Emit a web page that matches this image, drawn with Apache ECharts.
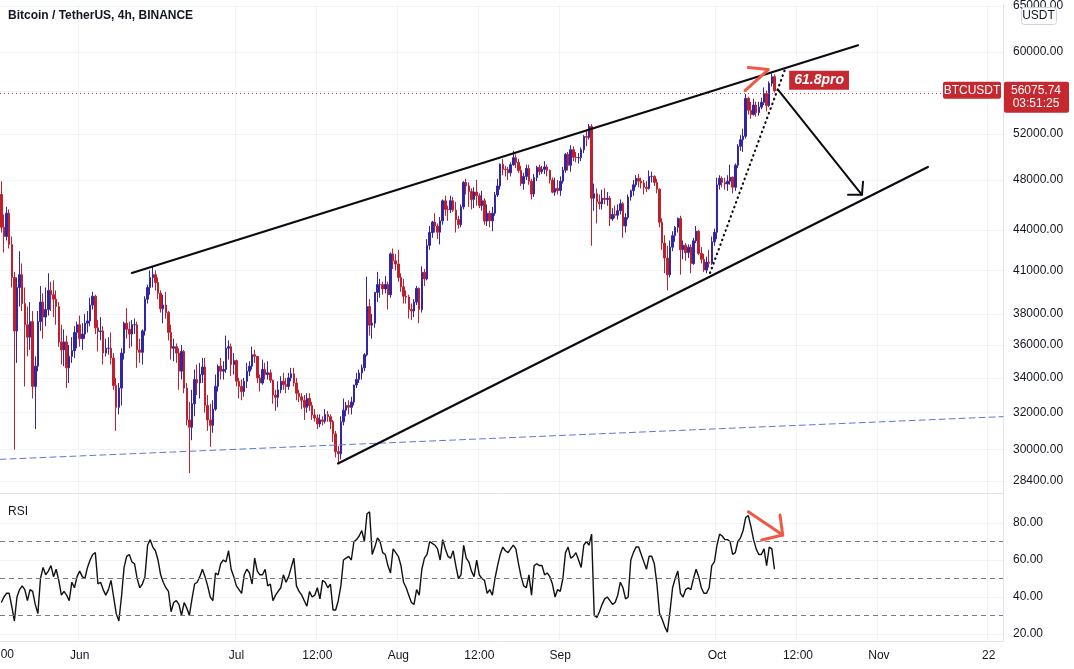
<!DOCTYPE html>
<html><head><meta charset="utf-8">
<script src="https://cdn.jsdelivr.net/npm/echarts@6/dist/echarts.min.js"></script>
<style>html,body{margin:0;padding:0;background:#fff}#chart{width:1074px;height:669px}</style>
</head><body><div id="chart"></div>
<script>
// ---------- data ----------
const slotStart = '2021-05-17 00:00';   // first 12h candle slot (UTC)
const slotHours = 12;
const slotCount = 384;                  // slots shown on the axis (through late Nov)

// 12h candles, ECharts order: [open, close, low, high]
const candles = [
[46800,44200,43800,47900],[44200,43500,42300,45200],
[43500,45300,43200,45800],[45300,42900,42600,45600],
[42900,40500,39800,43500],[40500,36900,30000,40900],
[36900,39800,34900,40500],[39800,40700,38500,42400],
[40700,38700,38200,41500],[38700,37300,33500,39800],
[37300,36500,35300,38500],[36500,37500,35700,38800],
[37500,33500,32800,38200],[33500,34700,31100,35300],
[34700,37500,34400,38200],[37500,38800,36900,39900],
[38800,37800,36400,39400],[37800,38300,37200,39800],
[38300,39600,37900,40800],[39600,39300,38200,40200],
[39300,39000,37800,40300],[39000,38500,37300,39600],
[38500,36200,35900,38800],[36200,35700,34800,37300],
[35700,36200,34700,37000],[36200,34600,33400,36600],
[34600,35300,33700,36000],[35300,35650,34900,36500],
[35650,36800,35200,37200],[36800,37300,35800,37500],
[37300,36400,35900,37900],[36400,36700,35700,37400],
[36700,37400,36400,38000],[37400,37550,36800,38200],
[37550,38600,37200,39100],[38600,39200,38300,39500],
[39200,37100,36700,39300],[37100,36850,35600,37600],
[36850,36900,36300,37800],[36900,35500,34800,37200],
[35500,35800,35300,36400],[35800,35800,35400,36500],
[35800,35200,34800,36800],[35200,33550,33300,35500],
[33550,32300,31000,34000],[32300,33400,31900,33700],
[33400,35500,32400,35800],[35500,37400,35100,37500],
[37400,37000,36400,38400],[37000,36700,35800,37500],
[36700,37300,35900,37600],[37300,37300,36700,37700],
[37300,35700,34600,37500],[35700,35550,34900,36400],
[35550,36900,34800,37000],[36900,39000,36600,39200],
[39000,39800,38700,40000],[39800,40500,39300,41000],
[40500,40700,39800,41300],[40700,40150,39600,41000],
[40150,39400,39000,40500],[39400,38350,38100,39600],
[38350,38600,37400,39300],[38600,38100,37700,39500],
[38100,36800,36300,38200],[36800,35800,35100,37300],
[35800,35900,35000,36400],[35900,35500,34900,36100],
[35500,34400,33300,35800],[34400,35600,33900,36000],
[35600,33400,33100,35700],[33400,31600,31300,33700],
[31600,31200,28800,32600],[31200,32500,30500,33300],
[32500,33900,31800,34500],[33900,33700,33000,34800],
[33700,34200,32800,34900],[34200,34650,33700,35200],
[34650,32400,32000,35200],[32400,31600,31000,33000],
[31600,31300,30150,32500],[31300,32200,30900,32700],
[32200,33500,32100,34200],[33500,34700,33200,34800],
[34700,34400,33900,35200],[34400,34500,33900,35000],
[34500,35800,34300,36600],[35800,35900,35100,36300],
[35900,34800,34100,36100],[34800,35040,34200,35500],
[35040,33800,33500,35100],[33800,33500,32800,34000],
[33500,33200,32700,33900],[33200,33800,32900,34000],
[33800,34400,33400,34900],[34400,34700,34100,35000],
[34700,35400,34500,35900],[35400,35300,34900,35700],
[35300,34000,33700,35300],[34000,33700,33200,34200],
[33700,34500,33600,35100],[34500,34200,33900,34900],
[34200,34300,33900,35000],[34300,33860,33700,34500],
[33860,33000,32500,33900],[33000,32870,32100,33300],
[32870,33300,32300,33800],[33300,33800,33100,34100],
[33800,33600,33300,34300],[33600,33500,33100,34000],
[33500,34000,33300,34300],[34000,34250,33800,34600],
[34250,33700,33500,34600],[33700,33100,32700,34000],
[33100,32900,32600,33300],[32900,32700,32200,33100],
[32700,32300,31600,33000],[32300,32800,32000,33100],
[32800,32400,32100,33100],[32400,31870,31600,32600],
[31870,31700,31500,32200],[31700,31380,31100,31900],
[31380,31600,31200,31900],[31600,31520,31300,31800],
[31520,31900,31400,32200],[31900,31780,31500,32100],
[31780,31500,31100,31900],[31500,30840,30400,31600],
[30840,29900,29600,31000],[29900,29790,29300,30200],
[29790,31500,29500,31800],[31500,32140,31300,32800],
[32140,32400,31800,32600],[32400,32300,31900,32700],
[32300,32600,31900,32900],[32600,33580,32400,33600],
[33580,33900,33400,34300],[33900,34290,33700,34500],
[34290,34600,33900,34800],[34600,35400,34400,35500],
[35400,38500,35300,40550],[38500,37270,36600,39000],
[37270,37400,36400,38000],[37400,39460,37100,39500],
[39460,40000,38800,40900],[40000,40000,39100,40400],
[40000,39700,39300,40200],[39700,40010,39400,40600],
[40010,39300,38300,40200],[39300,42200,39100,42300],
[42200,41700,41100,42600],[41700,41460,41000,42200],
[41460,40500,40200,42500],[40500,39850,39500,40800],
[39850,39200,38700,40400],[39200,39150,38700,39600],
[39150,38300,37700,39300],[38300,38200,37600,38700],
[38200,38800,37800,39000],[38800,39740,38600,39900],
[39740,38300,37400,39800],[38300,40870,38100,41300],
[40870,40400,39900,41100],[40400,42830,40300,43300],
[42830,43800,42500,44300],[43800,44610,43400,44700],
[44610,44300,43800,45300],[44300,43830,43300,44500],
[43830,44700,42900,45000],[44700,46290,44400,46400],
[46290,45600,45100,46700],[45600,45580,44700,45900],
[45580,46300,45300,46700],[46300,45540,45400,46600],
[45540,44800,43800,46200],[44800,44400,44100,45100],
[44400,45800,44200,46000],[45800,47800,45600,47900],
[47800,47500,46800,48100],[47500,47050,45800,47800],
[47050,46400,45600,47300],[46400,47000,45700,47400],
[47000,46700,45900,48000],[46700,45900,45700,46900],
[45900,46300,45500,47100],[46300,44680,44400,46500],
[44680,45300,44300,46000],[45300,44700,44200,45500],
[44700,45300,43900,45800],[45300,46760,45100,47000],
[46760,47500,46600,48100],[47500,49340,47200,49400],
[49340,48900,48400,49800],[48900,48870,48300,49200],
[48870,48600,48000,49100],[48600,49290,48300,49500],
[49290,49900,49200,50500],[49900,49500,49000,50200],
[49500,48800,48600,49800],[48800,47700,47500,49200],
[47700,48300,47200,48600],[48300,48970,48000,49300],
[48970,47900,47600,49300],[47900,46840,46400,48100],
[46840,48200,46600,48500],[48200,49070,47900,49200],
[49070,48700,48400,49300],[48700,48900,48500,49200],
[48900,49100,48500,49600],[49100,48810,48300,49300],
[48810,48000,47700,48900],[48000,46990,46900,48200],
[46990,47300,46700,48200],[47300,47130,46800,48000],
[47130,47900,46700,48300],[47900,48830,47700,49100],
[48830,50200,48600,50300],[50200,49250,48800,50400],
[49250,50600,48700,51000],[50600,49940,49600,50900],
[49940,49900,49500,50400],[49900,49920,49400,50300],
[49920,50600,49600,50800],[50600,51790,50300,51900],
[51790,51700,50900,52300],[51700,52700,51500,52920],
[52700,46500,42800,52900],[46500,46860,45500,47700],
[46860,46200,44500,47300],[46200,46050,45600,46800],
[46050,46500,45600,47200],[46500,46400,46000,47300],
[46400,46500,45900,47000],[46500,44850,44300,46700],
[44850,45200,44700,45700],[45200,45140,44900,45900],
[45140,45500,44800,46000],[45500,46060,45200,46400],
[46060,44300,43400,46200],[44300,44960,43800,45300],
[44960,46600,44800,46800],[46600,47110,46300,47200],
[47110,47600,46700,48000],[47600,48130,47400,48400],
[48130,47900,47400,48500],[47900,47750,47300,48200],
[47750,47400,46800,48000],[47400,47300,47000,47900],
[47300,48300,47200,48800],[48300,48300,47800,48700],
[48300,47800,47500,48400],[47800,47240,46900,48100],
[47240,44600,44200,47300],[44600,43010,42500,44900],
[43010,41900,40800,43600],[41900,40690,39600,42800],
[40690,42700,40500,43200],[42700,43560,42400,43900],
[43560,44200,43100,44300],[44200,44890,43800,44970],
[44890,42500,40700,45100],[42500,42840,41800,43200],
[42840,42300,41700,43000],[42300,42700,41900,42900],
[42700,41500,40800,42900],[41500,43170,41400,43400],
[43170,43900,43000,44300],[43900,42240,42100,44000],
[42240,41800,41500,42700],[41800,41030,40900,42200],
[41030,41600,40800,42000],[41600,41520,41200,42500],
[41520,43100,41400,43500],[43100,43820,42800,44100],
[43820,47600,43300,48200],[47600,48140,47200,48400],
[48140,47800,47400,48300],[47800,47670,47200,48200],
[47670,47900,47100,48400],[47900,48230,47600,49300],
[48230,47400,46900,48300],[47400,49250,47100,49400],
[49250,50900,49000,51100],[50900,51490,50500,51900],
[51490,51800,50400,52500],[51800,55340,51600,55750],
[55340,54200,53800,55500],[54200,53800,53400,55000],
[53800,54700,53700,55300],[54700,53970,53600,55000],
[53970,54500,53700,55000],[54500,54960,54300,55400],
[54960,55800,54700,56400],[55800,54660,54100,56100],
[54660,56800,54500,57000],[56800,57470,56500,57800],
[57470,56075.74,55900,57700]
];

// RSI(14), one reading per 12h slot
const rsiValues = [
37,40,42,42,35,27,40,44,46,44, 38,44,43,36,31,50,56,52,54,57,
51,55,49,41,43,41,38,48,45,51, 54,51,50,56,60,63,64,47,48,44,
41,44,49,40,31,27,40,56,62,63, 59,58,50,45,47,51,68,71,67,65,
60,52,48,45,43,32,37,38,36,30, 37,34,30,39,47,48,51,55,51,46,
40,38,53,52,58,60,59,65,55,51, 46,44,42,52,55,53,47,61,54,52,
52,55,46,47,38,41,43,45,52,48, 51,56,61,46,43,41,38,35,43,40,
41,45,39,49,48,45,47,33,33,38, 46,60,61,62,60,70,71,73,76,70,
85,86,63,67,72,70,64,63,57,53, 66,64,62,57,48,45,41,37,36,44,
41,55,61,63,70,69,68,66,60,71, 66,62,61,65,57,50,52,68,61,59,
54,51,60,52,50,49,42,44,41,50, 57,63,67,65,64,66,68,66,58,51,
46,45,52,41,57,58,57,57,52,53, 51,47,40,44,43,50,64,67,61,62,
64,60,56,68,70,68,74,30,29,32, 36,39,40,38,36,37,41,48,45,39,
40,60,64,67,67,63,59,55,62,62, 58,47,31,28,24,21,32,45,50,54,
42,40,44,45,44,50,55,51,45,42, 42,45,57,59,68,74,73,71,71,70,
63,64,70,72,76,83,84,78,71,66, 63,63,66,57,67,66,55
];

const lastPrice = 56075.74;
const lastPriceCountdown = '03:51:25';
const symbolName = 'BTCUSDT';
const quoteCurrency = 'USDT';
const chartTitle = 'Bitcoin / TetherUS, 4h, BINANCE';

const priceRange = [27820, 65170];
const priceGridTicks = [28400,30000,32000,34000,36000,38000,41000,44000,48000,52000,56000,60000,65000];
const priceLabelTicks = [28400,30000,32000,34000,36000,38000,41000,44000,48000,52000,60000,65000];
const rsiRange = [16.2, 95.7];
const rsiTicks = [20,40,60,80];
const rsiLevels = [30,50,70];

const xTickLabels = [
  ['2021-06-01 00:00','Jun'], ['2021-07-01 00:00','Jul'], ['2021-07-16 12:00','12:00'],
  ['2021-08-01 00:00','Aug'], ['2021-08-16 12:00','12:00'], ['2021-09-01 00:00','Sep'],
  ['2021-10-01 00:00','Oct'], ['2021-10-16 12:00','12:00'], ['2021-11-01 00:00','Nov'],
  ['2021-11-22 00:00','22']
];

// drawn annotations: [time, price] / [time, rsi]
const upperTrend  = [['2021-06-11 00:00', 40820], ['2021-10-28 00:00', 60700]];
const lowerTrend  = [['2021-07-20 11:00', 29290], ['2021-11-10 09:00', 49100]];
const dottedTrend = [['2021-09-29 16:00', 40820], ['2021-10-14 05:00', 58470]];
const blueLevel   = [['2021-05-16 18:00', 29500], ['2021-11-24 18:00', 31780]];
const arrowShaft  = [['2021-10-12 16:00', 56190], ['2021-10-28 18:00', 46780]];
const arrowHead   = [['2021-10-26 02:00', 46780], ['2021-10-28 18:00', 46780], ['2021-10-28 23:00', 47850]];
const redChevron  = [['2021-10-07 00:00', 58390], ['2021-10-10 20:00', 58180], ['2021-10-06 09:00', 56090]];
const noteLabel   = ['2021-10-20 13:00', 57100, '61.8pro'];
const rsiArrowShaft = [['2021-10-07 00:00', 86.1], ['2021-10-13 14:00', 73.5]];
const rsiArrowHead  = [['2021-10-09 13:30', 70.8], ['2021-10-13 14:00', 73.5], ['2021-10-13 01:30', 84.3]];

// ---------- build ----------
const FONT = 'Liberation Sans';
const TXT = '#131722';
const GRIDC = '#f0f3fa';
const AXC = '#e0e3eb';
const UP = '#3226a6', DOWN = '#c0202c';
const RED = '#c5282f', ANNO_RED = '#f05a45';

const toMs = s => Date.UTC(+s.slice(0,4), +s.slice(5,7)-1, +s.slice(8,10), +s.slice(11,13), +s.slice(14,16));
const pad = n => String(n).padStart(2,'0');
const fmt = ms => { const d = new Date(ms); return d.getUTCFullYear()+'-'+pad(d.getUTCMonth()+1)+'-'+pad(d.getUTCDate())+' '+pad(d.getUTCHours())+':'+pad(d.getUTCMinutes()); };
const H = 3600e3;
const t0 = toMs(slotStart);
const categories = [];
for (let i = 0; i < slotCount; i++) categories.push(fmt(t0 + i*slotHours*H));
const tMin = t0 - slotHours*H/2, tMax = t0 + (slotCount - 0.5)*slotHours*H;
const labelMap = new Map(xTickLabels);
const showTick = (idx, val) => labelMap.has(val);

const pricePts = arr => arr.map(p => [toMs(p[0]), Math.log(p[1])]);
const rsiPts = arr => arr.map(p => [toMs(p[0]), p[1]]);
const priceLabel = v => (Math.round(Math.exp(v)/100)*100).toFixed(2);

const lineSeries = (name, data, xi, yi, color, width, type) => ({
  name, type: 'line', xAxisIndex: xi, yAxisIndex: yi, data, symbol: 'none', showSymbol: false,
  silent: true, lineStyle: { color, width, type: type || 'solid', cap: 'round', join: 'round' }, z: 5
});

const chart = echarts.init(document.getElementById('chart'), null, { renderer: 'canvas' });
chart.setOption({
  animation: false,
  backgroundColor: '#ffffff',
  textStyle: { fontFamily: FONT },
  title: [
    { text: chartTitle, left: 8, top: 10, padding: 0, textStyle: { fontFamily: FONT, fontSize: 12, fontWeight: 'bold', color: TXT } },
    { text: 'RSI', left: 8, top: 506, padding: 0, textStyle: { fontFamily: FONT, fontSize: 12, fontWeight: 'normal', color: TXT } }
  ],
  grid: [
    { left: 0, right: 71, top: 0, height: 493 },
    { left: 0, right: 71, top: 494, height: 147 }
  ],
  xAxis: [
    { type: 'category', gridIndex: 0, data: categories, boundaryGap: true,
      axisLine: { show: true, lineStyle: { color: AXC } }, axisTick: { show: false }, axisLabel: { show: false },
      splitLine: { show: true, interval: showTick, lineStyle: { color: GRIDC, width: 1 } } },
    { type: 'category', gridIndex: 1, data: categories, boundaryGap: true,
      axisLine: { show: true, lineStyle: { color: AXC } }, axisTick: { show: false },
      axisLabel: { show: true, interval: showTick, formatter: v => labelMap.get(v) || '', color: TXT, fontSize: 12, fontFamily: FONT, margin: 9 },
      splitLine: { show: true, interval: showTick, lineStyle: { color: GRIDC, width: 1 } } },
    { type: 'time', gridIndex: 0, min: tMin, max: tMax, show: false },
    { type: 'time', gridIndex: 1, min: tMin, max: tMax, show: false }
  ],
  yAxis: [
    { type: 'value', gridIndex: 0, position: 'right', scale: true,
      min: Math.log(priceRange[0]), max: Math.log(priceRange[1]),
      axisLine: { show: true, lineStyle: { color: AXC } },
      axisTick: { show: false, customValues: priceGridTicks.map(Math.log) },
      axisLabel: { customValues: priceLabelTicks.map(Math.log), formatter: priceLabel, color: TXT, fontSize: 12, fontFamily: FONT, margin: 10 },
      splitLine: { show: true, lineStyle: { color: GRIDC, width: 1 } } },
    { type: 'value', gridIndex: 1, position: 'right', min: rsiRange[0], max: rsiRange[1],
      axisLine: { show: true, lineStyle: { color: AXC } },
      axisTick: { show: false, customValues: rsiTicks },
      axisLabel: { customValues: rsiTicks, formatter: v => v.toFixed(2), color: TXT, fontSize: 12, fontFamily: FONT, margin: 10 },
      splitLine: { show: true, lineStyle: { color: GRIDC, width: 1 } } }
  ],
  series: [
    lineSeries('level', pricePts(blueLevel), 2, 0, '#5a78d4', 1, [6, 4]),
    { name: 'BTCUSDT', type: 'candlestick', xAxisIndex: 0, yAxisIndex: 0, silent: true,
      data: candles.map(c => c.map(Math.log)), barWidth: 2,
      itemStyle: { color: UP, color0: DOWN, borderColor: UP, borderColor0: DOWN, borderWidth: 1 },
      markLine: { silent: true, symbol: 'none', label: { show: false },
        lineStyle: { color: '#e0303a', type: [1, 3], width: 1 },
        data: [{ yAxis: Math.log(lastPrice) }] }, z: 3 },
    lineSeries('upper', pricePts(upperTrend), 2, 0, '#0b0b10', 2.2),
    lineSeries('lower', pricePts(lowerTrend), 2, 0, '#0b0b10', 2.2),
    lineSeries('dotted', pricePts(dottedTrend), 2, 0, '#0b0b10', 2.2, [0.5, 4.5]),
    lineSeries('arrow', pricePts(arrowShaft), 2, 0, '#0b0b10', 2),
    lineSeries('arrowHead', pricePts(arrowHead), 2, 0, '#0b0b10', 2),
    lineSeries('chevron', pricePts(redChevron), 2, 0, ANNO_RED, 3),
    { name: 'note', type: 'scatter', xAxisIndex: 2, yAxisIndex: 0, silent: true, symbolSize: 0,
      itemStyle: { opacity: 1 },
      data: [[toMs(noteLabel[0]), Math.log(noteLabel[1])]], z: 6,
      label: { show: true, position: 'inside', formatter: noteLabel[2], color: '#ffffff', fontFamily: FONT, opacity: 1,
        fontSize: 14, fontStyle: 'italic', fontWeight: 'bold', backgroundColor: RED, padding: [3, 5, 2, 5] } },
    { name: 'RSI', type: 'line', xAxisIndex: 1, yAxisIndex: 1, data: rsiValues, symbol: 'none', showSymbol: false,
      silent: true, lineStyle: { color: '#111111', width: 1.4 },
      markLine: { silent: true, symbol: 'none', label: { show: false },
        lineStyle: { color: '#787b86', type: [5, 4], width: 1 },
        data: rsiLevels.map(v => ({ yAxis: v })) }, z: 4 },
    lineSeries('rsiArrow', rsiPts(rsiArrowShaft), 3, 1, ANNO_RED, 3),
    lineSeries('rsiArrowHead', rsiPts(rsiArrowHead), 3, 1, ANNO_RED, 3)
  ]
});

// price tags (positioned through the price scale)
const yLast = chart.convertToPixel({ yAxisIndex: 0 }, Math.log(lastPrice));
chart.setOption({
  graphic: [
    { type: 'rect', left: 943, top: yLast - 9, shape: { width: 58, height: 17, r: 2 }, style: { fill: RED }, z: 20 },
    { type: 'text', x: 972, y: yLast - 0.5, style: { text: symbolName, fill: '#fff', font: '12px ' + FONT, align: 'center', verticalAlign: 'middle' }, z: 21 },
    { type: 'rect', left: 1004, top: yLast - 9, shape: { width: 65, height: 31, r: 2 }, style: { fill: RED }, z: 20 },
    { type: 'text', x: 1036, y: yLast, style: { text: lastPrice.toFixed(2), fill: '#fff', font: '12px ' + FONT, align: 'center', verticalAlign: 'middle' }, z: 21 },
    { type: 'text', x: 1036, y: yLast + 13, style: { text: lastPriceCountdown, fill: '#fff', font: '12px ' + FONT, align: 'center', verticalAlign: 'middle' }, z: 21 },
    { type: 'rect', left: 1021, top: 7, shape: { width: 35, height: 17, r: 3 }, style: { fill: '#fff', stroke: '#d1d4dc', lineWidth: 1 }, z: 20 },
    { type: 'text', x: 1038.5, y: 15.5, style: { text: quoteCurrency, fill: TXT, font: '12px ' + FONT, align: 'center', verticalAlign: 'middle' }, z: 21 },
    { type: 'text', x: 14, y: 655, style: { text: '12:00', fill: TXT, font: '12px ' + FONT, align: 'right', verticalAlign: 'middle' }, z: 21 }
  ]
});
</script>
</body></html>
